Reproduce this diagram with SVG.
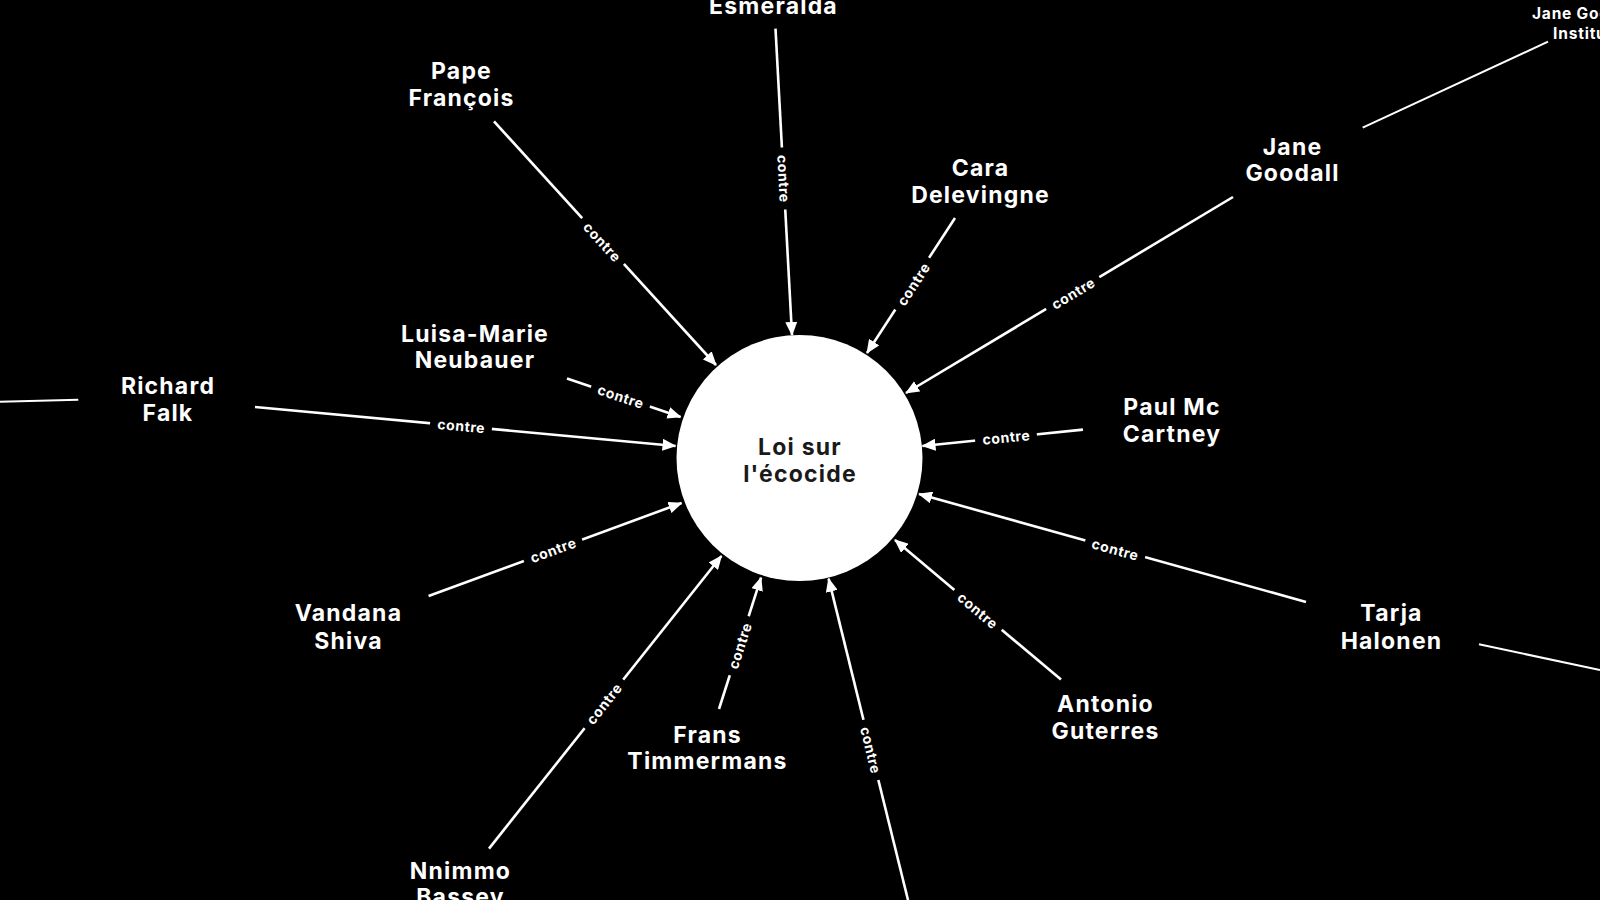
<svg xmlns="http://www.w3.org/2000/svg" width="1600" height="900" viewBox="0 0 1600 900">
<defs>
<marker id="arr" viewBox="0 0 14 12" refX="13" refY="6" markerWidth="14" markerHeight="12" markerUnits="userSpaceOnUse" orient="auto">
<path d="M0,0 L14,6 L0,12 z" fill="#fff"/>
</marker>
<style>
.bg{fill:#000}
.e{stroke:#fff;stroke-width:2.6;fill:none;marker-end:url(#arr)}
.t{stroke:#fff;stroke-width:2;fill:none}
.lb{fill:#000}
.lt{fill:#fff;font-family:Inter,"Open Sans","Liberation Sans",sans-serif;font-weight:700;font-size:14px;letter-spacing:0.6px;text-anchor:middle}
.n{fill:#fff;font-family:Inter,"Open Sans","Liberation Sans",sans-serif;font-weight:700;font-size:23px;letter-spacing:1.2px;text-anchor:middle}
.ns{fill:#fff;font-family:Inter,"Open Sans","Liberation Sans",sans-serif;font-weight:700;font-size:15.5px;letter-spacing:0.8px;text-anchor:middle}
.c{fill:#1a1a1a;font-family:Inter,"Open Sans","Liberation Sans",sans-serif;font-weight:700;font-size:23px;letter-spacing:1.2px;text-anchor:middle}
</style>
</defs>
<rect class="bg" x="0" y="0" width="1600" height="900"/>
<g id="connectors">
<line class="e" x1="775.5" y1="28.6" x2="792" y2="335"/>
<line class="e" x1="494" y1="121.4" x2="716" y2="365"/>
<line class="e" x1="955" y1="218" x2="867" y2="353"/>
<line class="e" x1="1233" y1="197" x2="906" y2="393"/>
<line class="e" x1="567" y1="378.6" x2="680.6" y2="417"/>
<line class="e" x1="255" y1="407" x2="675.5" y2="446"/>
<line class="e" x1="1083" y1="429.6" x2="922.5" y2="446"/>
<line class="e" x1="428.6" y1="596" x2="681.6" y2="503"/>
<line class="e" x1="1306" y1="602" x2="919" y2="494"/>
<line class="e" x1="1061" y1="679.6" x2="895" y2="540"/>
<line class="e" x1="719" y1="709" x2="761" y2="577.6"/>
<line class="e" x1="489" y1="848.6" x2="721.4" y2="556"/>
<line class="e" x1="908" y1="900" x2="828.6" y2="578.6"/>
<line class="t" x1="1362.7" y1="127.7" x2="1548" y2="41.7"/>
<line class="t" x1="0" y1="401.7" x2="78.3" y2="399.7"/>
<line class="t" x1="1479" y1="644.3" x2="1600" y2="670"/>
<g transform="translate(783.5,178.5) rotate(86.9)"><rect class="lb" x="-31" y="-8" width="62" height="16"/><text class="lt" x="0.3" y="5">contre</text></g>
<g transform="translate(602,242) rotate(47.7)"><rect class="lb" x="-31" y="-8" width="62" height="16"/><text class="lt" x="0.3" y="5">contre</text></g>
<g transform="translate(913.5,284.5) rotate(-56.9)"><rect class="lb" x="-31" y="-8" width="62" height="16"/><text class="lt" x="0.3" y="5">contre</text></g>
<g transform="translate(1073,293.5) rotate(-30.9)"><rect class="lb" x="-31" y="-8" width="62" height="16"/><text class="lt" x="0.3" y="5">contre</text></g>
<g transform="translate(620.5,396.7) rotate(18.7)"><rect class="lb" x="-31" y="-8" width="62" height="16"/><text class="lt" x="0.3" y="5">contre</text></g>
<g transform="translate(461,426.1) rotate(5.3)"><rect class="lb" x="-31" y="-8" width="62" height="16"/><text class="lt" x="0.3" y="5">contre</text></g>
<g transform="translate(1006,437.5) rotate(-5.8)"><rect class="lb" x="-31" y="-8" width="62" height="16"/><text class="lt" x="0.3" y="5">contre</text></g>
<g transform="translate(553,550.3) rotate(-20.2)"><rect class="lb" x="-31" y="-8" width="62" height="16"/><text class="lt" x="0.3" y="5">contre</text></g>
<g transform="translate(1115,549.6) rotate(15.6)"><rect class="lb" x="-31" y="-8" width="62" height="16"/><text class="lt" x="0.3" y="5">contre</text></g>
<g transform="translate(977.5,610.5) rotate(40.1)"><rect class="lb" x="-31" y="-8" width="62" height="16"/><text class="lt" x="0.3" y="5">contre</text></g>
<g transform="translate(740,646) rotate(-72.3)"><rect class="lb" x="-31" y="-8" width="62" height="16"/><text class="lt" x="0.3" y="5">contre</text></g>
<g transform="translate(604,704) rotate(-51.5)"><rect class="lb" x="-31" y="-8" width="62" height="16"/><text class="lt" x="0.3" y="5">contre</text></g>
<g transform="translate(870.5,750) rotate(76.3)"><rect class="lb" x="-31" y="-8" width="62" height="16"/><text class="lt" x="0.3" y="5">contre</text></g>
</g>
<g id="center"><circle cx="799.5" cy="458" r="123" fill="#fff"/><text class="c" x="800" y="455">Loi sur</text><text class="c" x="800" y="482">l'écocide</text></g>
<g id="esmeralda"><text class="n" x="773.5" y="13.5">Esmeralda</text></g>
<g id="pape"><text class="n" x="461.5" y="79">Pape</text><text class="n" x="461.5" y="106">François</text></g>
<g id="cara"><text class="n" x="980.5" y="176">Cara</text><text class="n" x="980.5" y="203">Delevingne</text></g>
<g id="jane"><text class="n" x="1292.5" y="155">Jane</text><text class="n" x="1292.5" y="181">Goodall</text></g>
<g id="jgi"><text class="ns" x="1586" y="19">Jane Goodall</text><text class="ns" x="1588" y="39">Institute</text></g>
<g id="luisa"><text class="n" x="475" y="341.5">Luisa-Marie</text><text class="n" x="475" y="368">Neubauer</text></g>
<g id="richard"><text class="n" x="168" y="394">Richard</text><text class="n" x="168" y="421">Falk</text></g>
<g id="paul"><text class="n" x="1172" y="415">Paul Mc</text><text class="n" x="1172" y="442">Cartney</text></g>
<g id="vandana"><text class="n" x="348.5" y="621">Vandana</text><text class="n" x="348.5" y="649">Shiva</text></g>
<g id="tarja"><text class="n" x="1391.5" y="621">Tarja</text><text class="n" x="1391.5" y="649">Halonen</text></g>
<g id="antonio"><text class="n" x="1105.5" y="712">Antonio</text><text class="n" x="1105.5" y="739">Guterres</text></g>
<g id="frans"><text class="n" x="707.5" y="743">Frans</text><text class="n" x="707.5" y="769">Timmermans</text></g>
<g id="nnimmo"><text class="n" x="460.5" y="879">Nnimmo</text><text class="n" x="460.5" y="905">Bassey</text></g>
</svg>
